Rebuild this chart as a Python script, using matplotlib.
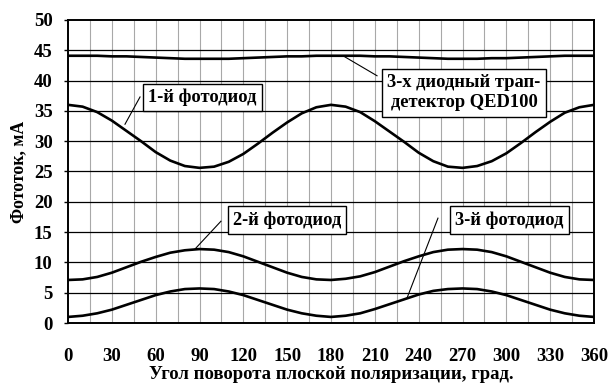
import numpy as np
import matplotlib
matplotlib.use("Agg")
import matplotlib.pyplot as plt

plt.rcParams['font.family'] = ['Liberation Serif', 'DejaVu Serif']
plt.rcParams['font.weight'] = 'bold'

# угол поворота, град (шаг 10)
angle = list(range(0, 361, 10))

# 3-х диодный трап-детектор QED100
trap = [44.1, 44.1, 44.1, 44.0, 44.0, 43.9, 43.8, 43.7, 43.6, 43.6,
        43.6, 43.6, 43.7, 43.8, 43.9, 44.0, 44.0, 44.1, 44.1,
        44.1, 44.1, 44.0, 44.0, 43.9, 43.8, 43.7, 43.6, 43.6,
        43.6, 43.7, 43.7, 43.8, 43.9, 44.0, 44.1, 44.1, 44.1]

# 1-й фотодиод
pd1 = [36.0, 35.7, 34.8, 33.4, 31.7, 30.0, 28.2, 26.8, 25.9, 25.6,
       25.8, 26.6, 27.9, 29.6, 31.4, 33.1, 34.6, 35.6, 36.0,
       35.7, 34.8, 33.3, 31.6, 29.9, 28.1, 26.7, 25.8, 25.6,
       25.9, 26.7, 28.0, 29.7, 31.5, 33.2, 34.7, 35.6, 36.0]

# 2-й фотодиод
pd2 = [7.1, 7.2, 7.6, 8.3, 9.2, 10.1, 10.9, 11.6, 12.0, 12.2,
       12.1, 11.7, 11.0, 10.1, 9.2, 8.3, 7.6, 7.2, 7.1,
       7.3, 7.7, 8.4, 9.3, 10.2, 11.0, 11.7, 12.1, 12.2,
       12.1, 11.7, 11.0, 10.1, 9.2, 8.3, 7.6, 7.2, 7.1]

# 3-й фотодиод
pd3 = [1.0, 1.2, 1.6, 2.2, 3.0, 3.8, 4.6, 5.2, 5.6, 5.7,
       5.6, 5.2, 4.6, 3.8, 3.0, 2.2, 1.6, 1.2, 1.0,
       1.2, 1.6, 2.3, 3.1, 3.9, 4.7, 5.3, 5.6, 5.7,
       5.6, 5.2, 4.6, 3.8, 3.0, 2.2, 1.6, 1.2, 1.0]

xticks = list(range(0, 361, 30))
yticks = list(range(0, 51, 5))

fig = plt.figure(figsize=(6.11, 3.85), dpi=100)
ax = fig.add_axes([68/611, 1 - 323/385, (594-68)/611, (323-20)/385])

ax.set_xlim(0, 360)
ax.set_ylim(0, 50)

# сетка
for gx in range(15, 360, 15):
    ax.axvline(gx, color='#a8a8a8', lw=0.8, zorder=1)
for gy in range(5, 50, 5):
    ax.axhline(gy, color='black', lw=0.9, zorder=1)

for s in [trap, pd1, pd2, pd3]:
    ax.plot(angle, s, color='black', lw=1.9, zorder=3)

for sp in ax.spines.values():
    sp.set_linewidth(1.4)

ax.set_xticks(xticks)
ax.set_yticks(yticks)
ax.tick_params(axis='both', labelsize=13.5)
ax.tick_params(axis='x', length=0, pad=18)
ax.tick_params(axis='y', length=3, width=1.0, pad=8)

ax.set_xlabel('Угол поворота плоской поляризации, град.', fontsize=13.5,
              fontweight='bold', labelpad=1)
ax.set_ylabel('Фототок, мА', fontsize=12.8, fontweight='bold', labelpad=5)

box = dict(boxstyle='square,pad=0.28', fc='white', ec='black', lw=1.0)

# выноски
leaders = [((39, 49.3), (32.8, 37.3)),
           ((189.6, 211.5), (43.9, 40.8)),
           ((86.9, 104.7), (12.2, 16.8)),
           ((232, 253.2), (4.1, 17.3))]
for lx, ly in leaders:
    ax.plot(lx, ly, color='black', lw=0.8, zorder=4)

fs = 13.3
ax.text(92, 37.2, '1-й фотодиод', fontsize=fs, fontweight='bold', bbox=box,
        ha='center', va='center', zorder=5)
ax.text(271, 38.0, '3-х диодный трап-\nдетектор QED100', fontsize=fs,
        fontweight='bold', bbox=box, ha='center', va='center',
        linespacing=1.25, zorder=5)
ax.text(150, 17.0, '2-й фотодиод', fontsize=fs, fontweight='bold', bbox=box,
        ha='center', va='center', zorder=5)
ax.text(302, 17.0, '3-й фотодиод', fontsize=fs, fontweight='bold', bbox=box,
        ha='center', va='center', zorder=5)

fig.savefig('out.png', dpi=100)
